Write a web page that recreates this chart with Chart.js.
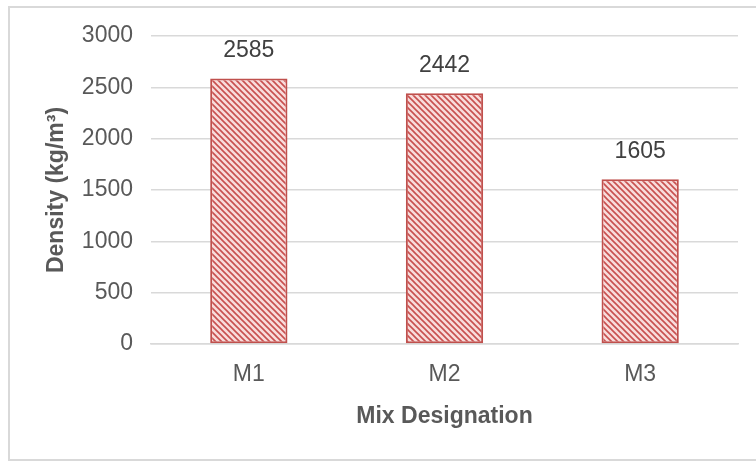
<!DOCTYPE html>
<html>
<head>
<meta charset="utf-8">
<script src="https://cdn.jsdelivr.net/npm/chart.js@4.4.1/dist/chart.umd.min.js"></script>
<style>
  html, body { margin: 0; padding: 0; background: #ffffff; }
  #wrap { width: 756px; height: 461px; position: relative; }
</style>
</head>
<body>
<div id="wrap"><canvas id="c" width="756" height="461"></canvas></div>
<script>
// Mix designations and their measured densities (kg/m³)
const mixes = ['M1', 'M2', 'M3'];
const densities = [2585, 2442, 1605];
const yTicks = [0, 500, 1000, 1500, 2000, 2500, 3000];

const FONT = "'Liberation Sans', Arial, Helvetica, sans-serif";
const TEXT = '#595959';
const RED = '#c0504d';
const FS = 23;

// Downward diagonal hatch used to fill the bars
function makeHatch() {
  const s = 6;
  const p = document.createElement('canvas');
  p.width = s; p.height = s;
  const g = p.getContext('2d');
  g.fillStyle = '#f8dcdb';
  g.fillRect(0, 0, s, s);
  g.strokeStyle = '#c8504f';
  g.lineWidth = 1.6;
  g.beginPath();
  g.moveTo(-1, -1); g.lineTo(s + 1, s + 1);
  g.moveTo(-1, s - 1); g.lineTo(1, s + 1);
  g.moveTo(s - 1, -1); g.lineTo(s + 1, 1);
  g.stroke();
  return g.createPattern(p, 'repeat');
}
const ctx0 = document.getElementById('c').getContext('2d');
const hatch = makeHatch();

// Light frame around the whole chart
const framePlugin = {
  id: 'frame',
  beforeDraw(chart) {
    const c = chart.ctx;
    c.save();
    c.strokeStyle = '#d9d9d9';
    c.lineWidth = 2;
    c.beginPath();
    c.moveTo(9, chart.height + 2);
    c.lineTo(9, 7);
    c.lineTo(chart.width + 5, 7);
    c.moveTo(9, 460);
    c.lineTo(chart.width + 5, 460);
    c.stroke();
    c.restore();
  }
};

// Value labels above each bar
const valueLabels = {
  id: 'valueLabels',
  afterDatasetsDraw(chart) {
    const c = chart.ctx;
    const meta = chart.getDatasetMeta(0);
    const data = chart.data.datasets[0].data;
    c.save();
    c.font = FS + 'px ' + FONT;
    c.fillStyle = '#404040';
    c.textAlign = 'center';
    c.textBaseline = 'middle';
    meta.data.forEach((bar, i) => {
      c.fillText(String(data[i]), bar.x, bar.y - 28);
    });
    c.restore();
  }
};

new Chart(ctx0, {
  type: 'bar',
  data: {
    labels: mixes,
    datasets: [{
      data: densities,
      backgroundColor: hatch,
      borderColor: RED,
      borderWidth: 2,
      borderSkipped: false,
      categoryPercentage: 1.0,
      barPercentage: 0.395
    }]
  },
  options: {
    responsive: false,
    animation: false,
    layout: { padding: { left: 43, right: 18, top: 36, bottom: 31 } },
    plugins: {
      legend: { display: false },
      tooltip: { enabled: false }
    },
    scales: {
      x: {
        grid: { display: false, drawTicks: false },
        border: { display: true, color: '#d9d9d9', width: 1.5 },
        ticks: { color: TEXT, font: { family: FONT, size: FS }, padding: 17 },
        title: {
          display: true, text: 'Mix Designation', color: TEXT,
          font: { family: FONT, size: FS, weight: 'bold' },
          padding: { top: 0, bottom: 0 }
        },
        afterFit(scale) { scale.height = 461 - 344 - 31; }
      },
      y: {
        min: 0, max: 3000,
        afterBuildTicks(scale) { scale.ticks = yTicks.map(v => ({ value: v })); },
        grid: { color: '#d9d9d9', lineWidth: 1.5, drawTicks: false },
        border: { display: false },
        ticks: {
          color: TEXT, font: { family: FONT, size: FS }, padding: 18,
          callback: v => String(v)
        },
        title: {
          display: true, text: 'Density (kg/m³)', color: TEXT,
          font: { family: FONT, size: FS, weight: 'bold' },
          padding: { top: 0, bottom: 0 }
        },
        afterFit(scale) { scale.width = 151 - 43; }
      }
    }
  },
  plugins: [framePlugin, valueLabels]
});
</script>
</body>
</html>
